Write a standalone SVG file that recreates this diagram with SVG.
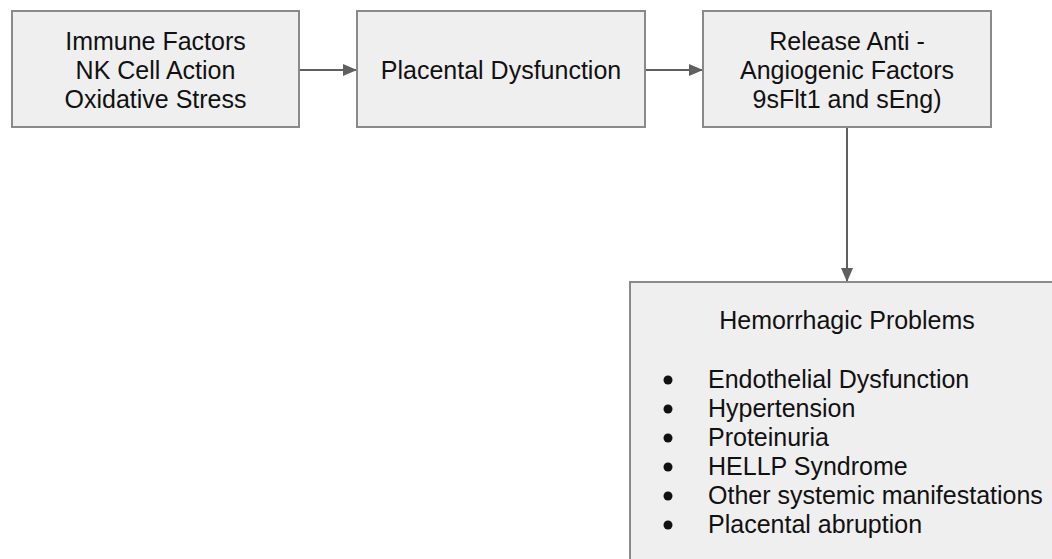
<svg xmlns="http://www.w3.org/2000/svg" width="1052" height="559" viewBox="0 0 1052 559">
<style>
.box{fill:#efefef;stroke:#8a8a8a;stroke-width:2}
.t{font-family:"Liberation Sans",Arial,sans-serif;font-size:25px;fill:#111}
.c{text-anchor:middle}
.edge{stroke:#5f5f5f;stroke-width:2;fill:none}
</style>
<defs>
<marker id="ah" viewBox="0 0 14 12" refX="14" refY="6" markerWidth="14" markerHeight="12" markerUnits="userSpaceOnUse" orient="auto">
<path d="M0,0 L14,6 L0,12 z" fill="#5f5f5f"/>
</marker>
</defs>
<rect width="1052" height="559" fill="#fff"/>
<g id="connectors">
<line class="edge" x1="299" y1="70" x2="357" y2="70" marker-end="url(#ah)"/>
<line class="edge" x1="645" y1="70" x2="703" y2="70" marker-end="url(#ah)"/>
<line class="edge" x1="847" y1="127" x2="847" y2="282" marker-end="url(#ah)"/>
</g>
<g id="immune">
<rect class="box" x="12" y="11" width="287" height="116"/>
<text class="t c" x="155.5" y="50">Immune Factors</text>
<text class="t c" x="155.5" y="79">NK Cell Action</text>
<text class="t c" x="155.5" y="108">Oxidative Stress</text>
</g>
<g id="placental">
<rect class="box" x="357" y="11" width="288" height="116"/>
<text class="t c" x="501" y="79">Placental Dysfunction</text>
</g>
<g id="release">
<rect class="box" x="703" y="11" width="288" height="116"/>
<text class="t c" x="847" y="50">Release Anti -</text>
<text class="t c" x="847" y="79">Angiogenic Factors</text>
<text class="t c" x="847" y="108">9sFlt1 and sEng)</text>
</g>
<g id="hemorrhagic">
<rect class="box" x="630" y="282" width="440" height="300"/>
<text class="t c" x="847" y="329">Hemorrhagic Problems</text>
<g fill="#111">
<circle cx="668" cy="380" r="4.5"/>
<circle cx="668" cy="409" r="4.5"/>
<circle cx="668" cy="438" r="4.5"/>
<circle cx="668" cy="467" r="4.5"/>
<circle cx="668" cy="496" r="4.5"/>
<circle cx="668" cy="525" r="4.5"/>
</g>
<text class="t" x="708" y="388">Endothelial Dysfunction</text>
<text class="t" x="708" y="417">Hypertension</text>
<text class="t" x="708" y="446">Proteinuria</text>
<text class="t" x="708" y="475">HELLP Syndrome</text>
<text class="t" x="708" y="504">Other systemic manifestations</text>
<text class="t" x="708" y="533">Placental abruption</text>
</g>
</svg>
